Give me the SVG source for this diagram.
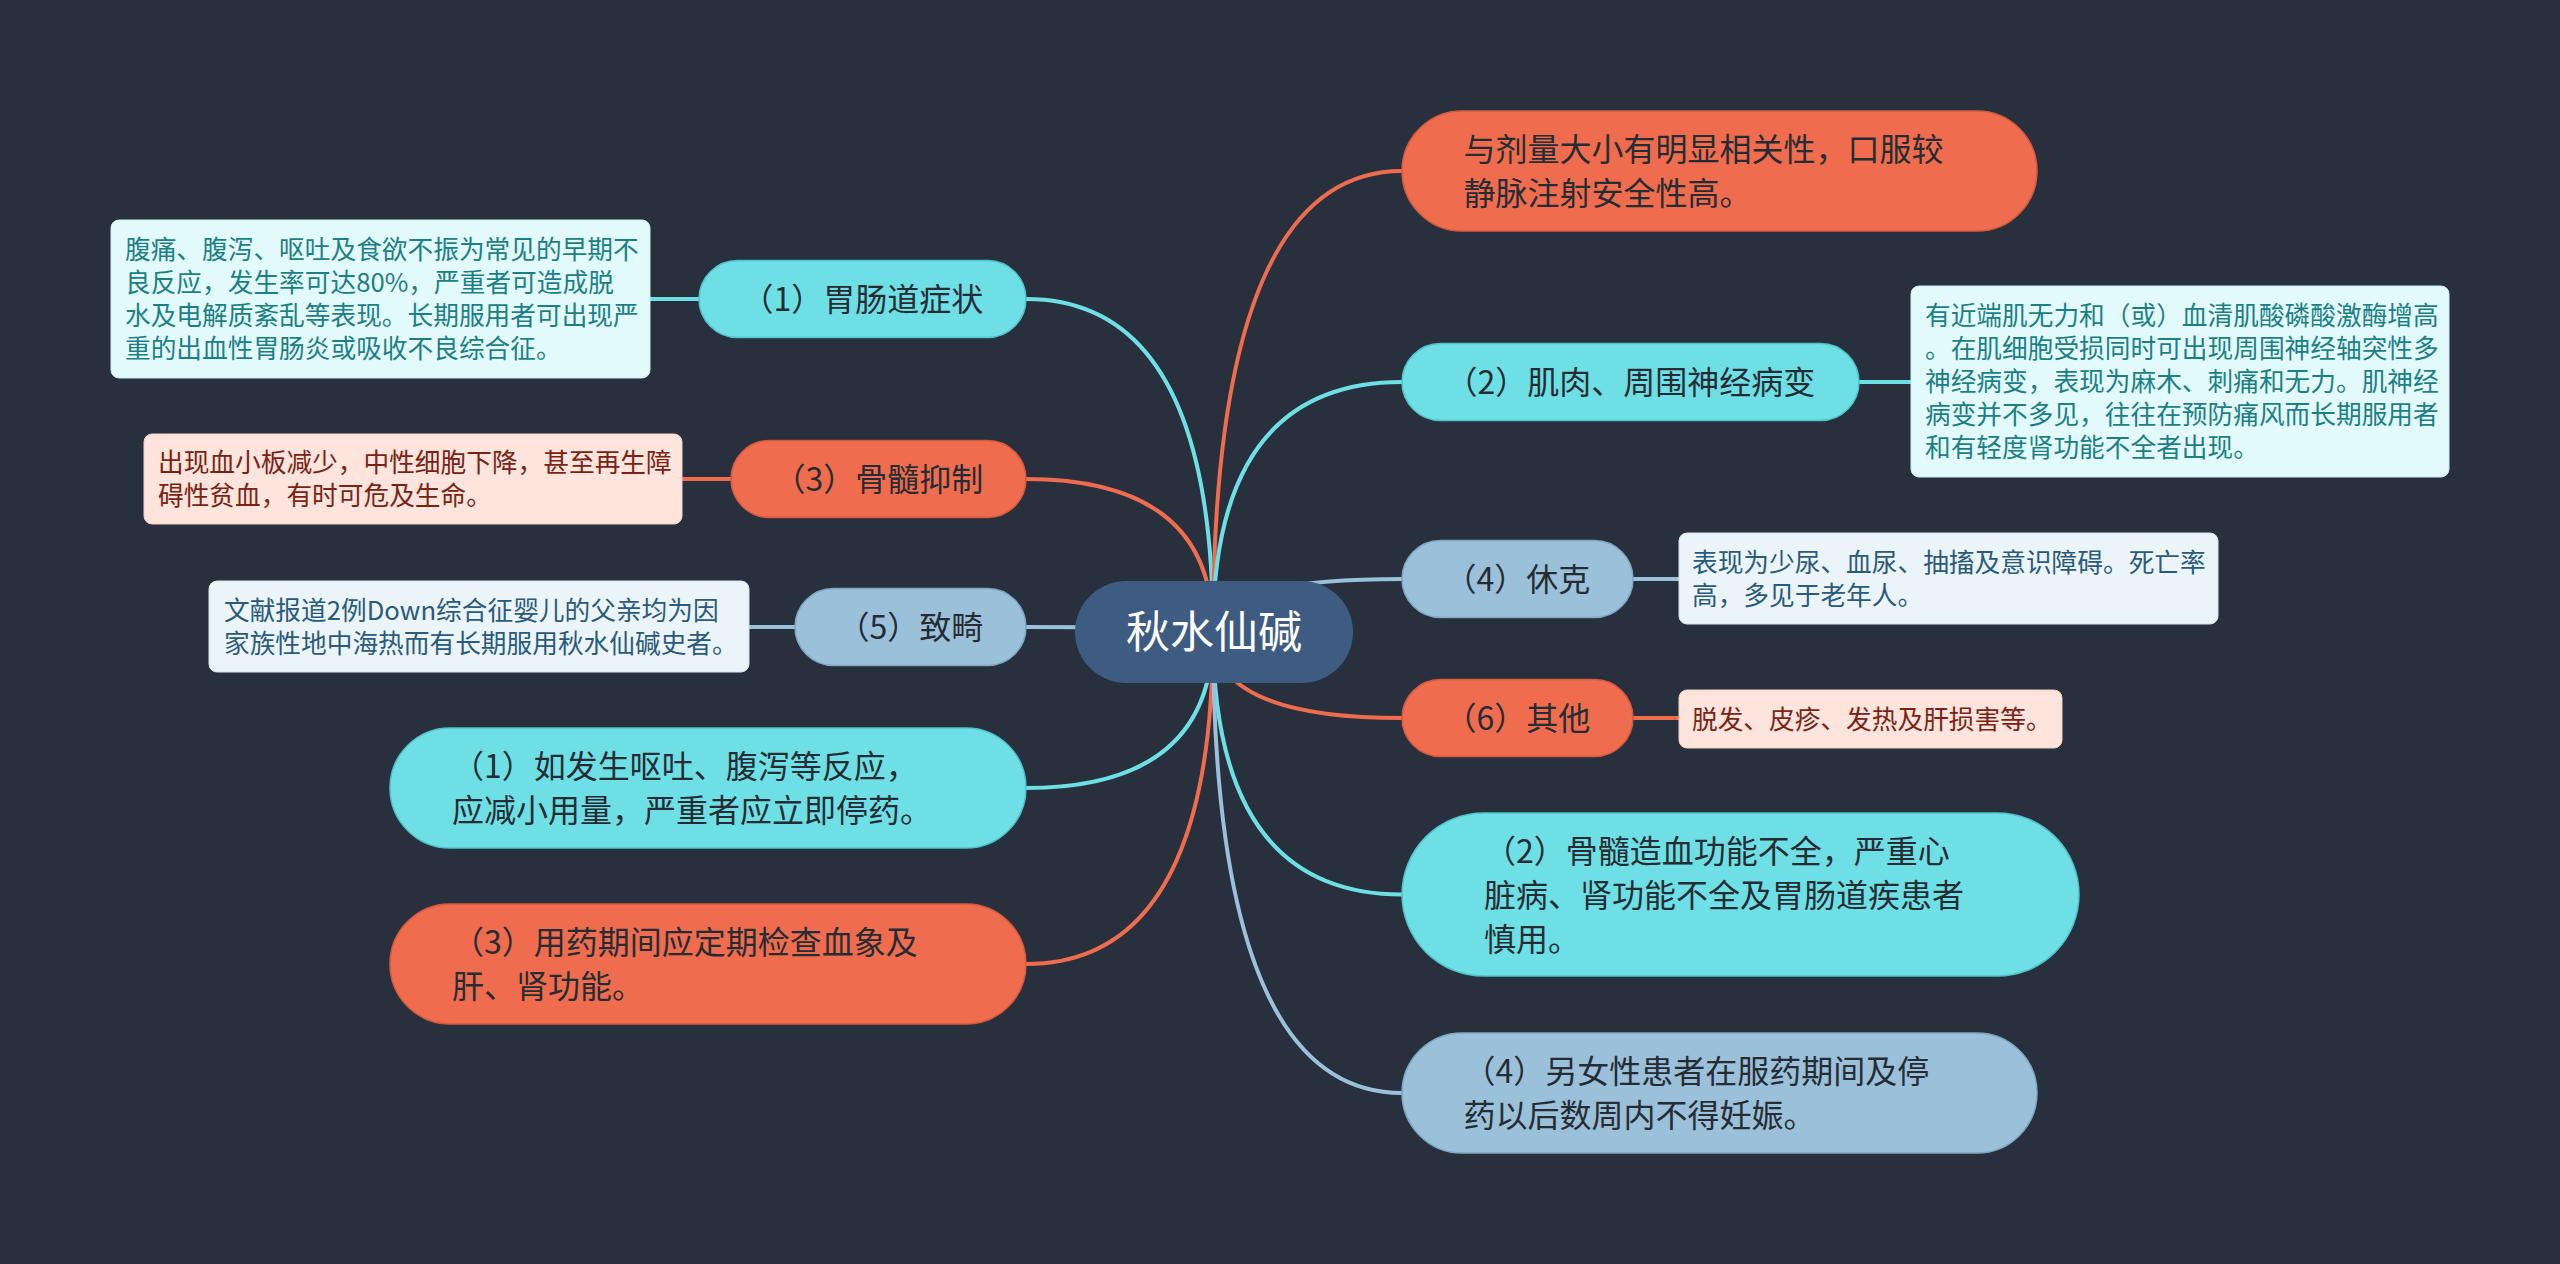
<svg xmlns="http://www.w3.org/2000/svg" width="2560" height="1264" viewBox="0 0 2560 1264">
<style>
.t{font-family:"Noto Sans CJK SC","Noto Sans",sans-serif;}
.pt{font-size:32px;fill:#262c33;}
.dt{font-size:25.7px;}
.c{fill:#6ee0e5;stroke:#4fc3c9;stroke-width:1.5;}
.o{fill:#ef6c4e;stroke:#d85a3d;stroke-width:1.5;}
.b{fill:#9ac0da;stroke:#7ea7c2;stroke-width:1.5;}
.dc{fill:#e2fafb;stroke:#c7eef0;stroke-width:1;}
.do{fill:#fde4dd;stroke:#f3cfc5;stroke-width:1;}
.db{fill:#ebf4f9;stroke:#d3e4ee;stroke-width:1;}
.tc{fill:#1c7f86;}
.to{fill:#7a2313;}
.tb{fill:#2a5a7c;}
.lc{stroke:#6ee0e5;}
.lo{stroke:#ef6c4e;}
.lb{stroke:#9ac0da;}
#connectors path,#connectors line{fill:none;stroke-width:4;}
</style>
<rect x="0" y="0" width="2560" height="1264" fill="#28303e"/>
<g id="connectors">
<path class="lc" d="M1213,632 Q1213,299 1026,299"/>
<path class="lo" d="M1213,632 Q1213,479 1026,479"/>
<path class="lb" d="M1213,632 Q1213,627 1026,627"/>
<path class="lc" d="M1213,632 Q1213,788 1026,788"/>
<path class="lo" d="M1213,632 Q1213,964 1026,964"/>
<path class="lo" d="M1213,632 Q1213,171 1402,171"/>
<path class="lc" d="M1213,632 Q1213,382 1402,382"/>
<path class="lb" d="M1213,632 Q1213,579 1402,579"/>
<path class="lo" d="M1213,632 Q1213,718 1402,718"/>
<path class="lc" d="M1213,632 Q1213,894.5 1402,894.5"/>
<path class="lb" d="M1213,632 Q1213,1093 1402,1093"/>
<line class="lc" x1="650" y1="299" x2="699" y2="299"/>
<line class="lo" x1="682" y1="479" x2="731" y2="479"/>
<line class="lb" x1="749" y1="627" x2="795" y2="627"/>
<line class="lc" x1="1859" y1="382" x2="1911" y2="382"/>
<line class="lb" x1="1633" y1="579" x2="1679" y2="579"/>
<line class="lo" x1="1633" y1="718" x2="1679" y2="718"/>
</g>
<g id="root">
<rect x="1075" y="581" width="278" height="102" rx="51" fill="#3e5b82"/>
<text class="t" x="1214" y="648" font-size="44" fill="#ffffff" text-anchor="middle">秋水仙碱</text>
</g>
<g id="n-gi">
<rect class="c" x="699" y="260.5" width="327" height="77" rx="38.5"/>
<text class="t pt" x="862.5" y="311" text-anchor="middle">（1）胃肠道症状</text>
</g>
<g id="d-gi">
<rect class="dc" x="111" y="220" width="539" height="158" rx="8"/>
<text class="t dt tc" x="125"><tspan x="125" y="259">腹痛、腹泻、呕吐及食欲不振为常见的早期不</tspan><tspan x="125" y="292">良反应，发生率可达80%，严重者可造成脱</tspan><tspan x="125" y="325">水及电解质紊乱等表现。长期服用者可出现严</tspan><tspan x="125" y="358">重的出血性胃肠炎或吸收不良综合征。</tspan></text>
</g>
<g id="n-marrow">
<rect class="o" x="731" y="440.5" width="295" height="77" rx="38.5"/>
<text class="t pt" x="878.5" y="491" text-anchor="middle">（3）骨髓抑制</text>
</g>
<g id="d-marrow">
<rect class="do" x="144" y="434" width="538" height="90" rx="8"/>
<text class="t dt to"><tspan x="158" y="472">出现血小板减少，中性细胞下降，甚至再生障</tspan><tspan x="158" y="505">碍性贫血，有时可危及生命。</tspan></text>
</g>
<g id="n-terat">
<rect class="b" x="795" y="588.5" width="231" height="77" rx="38.5"/>
<text class="t pt" x="910.5" y="639" text-anchor="middle">（5）致畸</text>
</g>
<g id="d-terat">
<rect class="db" x="209" y="581" width="540" height="91" rx="8"/>
<text class="t dt tb"><tspan x="224" y="620">文献报道2例Down综合征婴儿的父亲均为因</tspan><tspan x="224" y="653">家族性地中海热而有长期服用秋水仙碱史者。</tspan></text>
</g>
<g id="n-vomit">
<rect class="c" x="390" y="728" width="636" height="120" rx="60"/>
<text class="t pt"><tspan x="452" y="778">（1）如发生呕吐、腹泻等反应，</tspan><tspan x="452" y="822">应减小用量，严重者应立即停药。</tspan></text>
</g>
<g id="n-check">
<rect class="o" x="390" y="904" width="636" height="120" rx="60"/>
<text class="t pt"><tspan x="452" y="954">（3）用药期间应定期检查血象及</tspan><tspan x="452" y="998">肝、肾功能。</tspan></text>
</g>
<g id="n-dose">
<rect class="o" x="1402" y="111" width="635" height="120" rx="60"/>
<text class="t pt"><tspan x="1463.5" y="161">与剂量大小有明显相关性，口服较</tspan><tspan x="1463.5" y="205">静脉注射安全性高。</tspan></text>
</g>
<g id="n-muscle">
<rect class="c" x="1402" y="343.5" width="457" height="77" rx="38.5"/>
<text class="t pt" x="1630.5" y="394" text-anchor="middle">（2）肌肉、周围神经病变</text>
</g>
<g id="d-muscle">
<rect class="dc" x="1911" y="286" width="538" height="191" rx="8"/>
<text class="t dt tc"><tspan x="1925" y="325">有近端肌无力和（或）血清肌酸磷酸激酶增高</tspan><tspan x="1925" y="358">。在肌细胞受损同时可出现周围神经轴突性多</tspan><tspan x="1925" y="391">神经病变，表现为麻木、刺痛和无力。肌神经</tspan><tspan x="1925" y="424">病变并不多见，往往在预防痛风而长期服用者</tspan><tspan x="1925" y="457">和有轻度肾功能不全者出现。</tspan></text>
</g>
<g id="n-shock">
<rect class="b" x="1402" y="540.5" width="231" height="77" rx="38.5"/>
<text class="t pt" x="1517.5" y="591" text-anchor="middle">（4）休克</text>
</g>
<g id="d-shock">
<rect class="db" x="1679" y="533" width="539" height="91" rx="8"/>
<text class="t dt tb"><tspan x="1692" y="572">表现为少尿、血尿、抽搐及意识障碍。死亡率</tspan><tspan x="1692" y="605">高，多见于老年人。</tspan></text>
</g>
<g id="n-other">
<rect class="o" x="1402" y="679.5" width="231" height="77" rx="38.5"/>
<text class="t pt" x="1517.5" y="730" text-anchor="middle">（6）其他</text>
</g>
<g id="d-other">
<rect class="do" x="1679" y="690" width="383" height="58" rx="8"/>
<text class="t dt to" x="1692" y="729">脱发、皮疹、发热及肝损害等。</text>
</g>
<g id="n-caution">
<rect class="c" x="1402" y="813" width="677" height="163" rx="81.5"/>
<text class="t pt"><tspan x="1484" y="862.5">（2）骨髓造血功能不全，严重心</tspan><tspan x="1484" y="906.5">脏病、肾功能不全及胃肠道疾患者</tspan><tspan x="1484" y="950.5">慎用。</tspan></text>
</g>
<g id="n-preg">
<rect class="b" x="1402" y="1033" width="635" height="120" rx="60"/>
<text class="t pt"><tspan x="1463.5" y="1083">（4）另女性患者在服药期间及停</tspan><tspan x="1463.5" y="1127">药以后数周内不得妊娠。</tspan></text>
</g>
</svg>
